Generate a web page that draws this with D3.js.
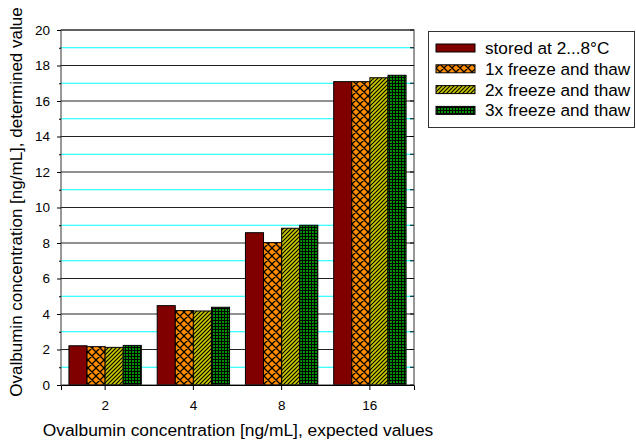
<!DOCTYPE html>
<html><head><meta charset="utf-8">
<script src="https://cdn.jsdelivr.net/npm/d3@7"></script>
<style>body{margin:0;background:#fff}svg{display:block;font-family:Arial,"Liberation Sans",sans-serif}</style>
</head><body><svg id="c" width="636" height="440"></svg>
<script>
const categories = ["2","4","8","16"];
const seriesNames = ["stored at 2...8°C","1x freeze and thaw","2x freeze and thaw","3x freeze and thaw"];
const stored = [2.21, 4.47, 8.58, 17.09];
const ft1 = [2.16, 4.19, 8.02, 17.09];
const ft2 = [2.12, 4.17, 8.83, 17.31];
const ft3 = [2.23, 4.38, 9.00, 17.45];
const yTicks = [0,2,4,6,8,10,12,14,16,18,20];
const yMinor = [1,3,5,7,9,11,13,15,17,19];
const series = [stored, ft1, ft2, ft3];

const FONT = "Arial,'Liberation Sans',sans-serif";
const svg = d3.select("#c");
const L=61, R=414, T=30, B=385;
const defs = svg.append("defs");
const p1 = defs.append("pattern").attr("id","p1").attr("patternUnits","userSpaceOnUse").attr("width",8).attr("height",8);
p1.append("rect").attr("width",8).attr("height",8).attr("fill","#ff8c00");
p1.append("path").attr("d","M0,0L8,8M8,0L0,8M-1,7L1,9M7,-1L9,1M-1,1L1,-1M7,9L9,7").attr("stroke","#000").attr("stroke-width",1.3);
const p2 = defs.append("pattern").attr("id","p2").attr("patternUnits","userSpaceOnUse").attr("width",4).attr("height",4);
p2.append("rect").attr("width",4).attr("height",4).attr("fill","#c8c800");
p2.append("path").attr("d","M-1,5L5,-1M-1,1L1,-1M3,5L5,3").attr("stroke","#000").attr("stroke-width",1.1);
const p3 = defs.append("pattern").attr("id","p3").attr("patternUnits","userSpaceOnUse").attr("width",3).attr("height",3);
p3.append("rect").attr("width",3).attr("height",3).attr("fill","#000");
p3.append("rect").attr("width",2).attr("height",2).attr("fill","#009000");
const fills = ["#800000","url(#p1)","url(#p2)","url(#p3)"];

const x = d3.scaleBand().domain(categories).range([L,R]).paddingInner(0.18).paddingOuter(0.09);
const xs = d3.scaleBand().domain(d3.range(4)).range([0,x.bandwidth()]);
const y = d3.scaleLinear().domain([0,20]).range([B,T]);

svg.append("g").selectAll("line").data(yMinor).join("line")
  .attr("x1",L).attr("x2",R).attr("y1",d=>y(d)).attr("y2",d=>y(d))
  .attr("stroke","#00ffff").attr("stroke-width",1);
svg.append("g").selectAll("line").data(yTicks.slice(1)).join("line")
  .attr("x1",L).attr("x2",R).attr("y1",d=>y(d)).attr("y2",d=>y(d))
  .attr("stroke","#222").attr("stroke-width",1);
svg.append("g").selectAll("line").data(yTicks.concat(yMinor)).join("line")
  .attr("x1",R-4).attr("x2",R).attr("y1",d=>y(d)).attr("y2",d=>y(d)).attr("stroke","#000");

categories.forEach((c,ci)=>{
  series.forEach((s,si)=>{
    svg.append("rect").attr("x",x(c)+xs(si)).attr("width",xs.bandwidth())
      .attr("y",y(s[ci])).attr("height",y(0)-y(s[ci]))
      .attr("fill",fills[si]).attr("stroke","#000").attr("stroke-width",1);
  });
});

svg.append("rect").attr("x",L).attr("y",T).attr("width",R-L).attr("height",B-T).attr("fill","none").attr("stroke","#333");

const ya = svg.append("g").attr("transform",`translate(${L},0)`).call(d3.axisLeft(y).tickValues(yTicks).tickSize(4).tickPadding(7));
ya.select(".domain").remove();
ya.selectAll("text").attr("font-size",13.5).attr("font-family",FONT);
const ymin = svg.append("g").attr("transform",`translate(${L},0)`).call(d3.axisLeft(y).tickValues(yMinor).tickSize(2).tickFormat(""));
ymin.select(".domain").remove();
const xa = svg.append("g").attr("transform",`translate(0,${B})`).call(d3.axisBottom(x).tickSize(5).tickPadding(10));
xa.select(".domain").attr("stroke","#000");
xa.selectAll("text").attr("font-size",13.5).attr("font-family",FONT);

svg.append("text").attr("x",238).attr("y",436).attr("text-anchor","middle").attr("font-size",17.4).attr("font-family",FONT).text("Ovalbumin concentration [ng/mL], expected values");
svg.append("text").attr("transform",`translate(22,202) rotate(-90)`).attr("text-anchor","middle").attr("font-size",17).attr("font-family",FONT).text("Ovalbumin concentration [ng/mL], determined value");

const lg = svg.append("g");
lg.append("rect").attr("x",428.5).attr("y",31.5).attr("width",206).attr("height",96).attr("fill","#fff").attr("stroke","#333");
seriesNames.forEach((n,i)=>{
  const yy = 48 + i*20.8;
  lg.append("rect").attr("x",436).attr("y",yy-4).attr("width",39).attr("height",8).attr("fill",fills[i]).attr("stroke","#000");
  lg.append("text").attr("x",485).attr("y",yy+6).attr("font-size",17.2).attr("font-family",FONT).text(n);
});
</script></body></html>
